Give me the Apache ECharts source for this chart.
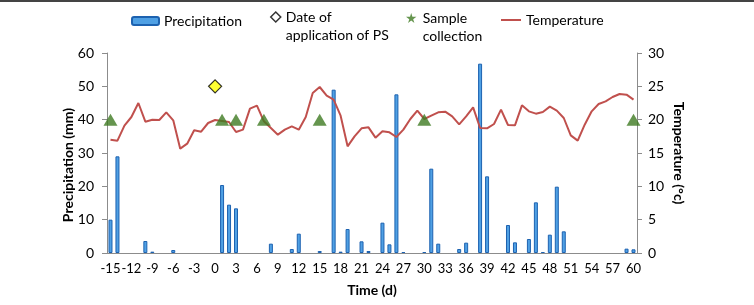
<!DOCTYPE html>
<html>
<head>
<meta charset="utf-8">
<script src="https://cdn.jsdelivr.net/npm/echarts@6/dist/echarts.min.js"></script>
<style>
  html, body { margin: 0; padding: 0; background: #fff; }
  #chart { width: 754px; height: 305px; }
</style>
</head>
<body>
<div id="chart"></div>
<script>
// days (x categories)
var days = ['-15','-14','-13','-12','-11','-10','-9','-8','-7','-6','-5','-4','-3','-2','-1',
  '0','1','2','3','4','5','6','7','8','9','10','11','12','13','14','15','16','17','18','19',
  '20','21','22','23','24','25','26','27','28','29','30','31','32','33','34','35','36','37',
  '38','39','40','41','42','43','44','45','46','47','48','49','50','51','52','53','54','55',
  '56','57','58','59','60'];

// precipitation in mm, one per day (null = no rain)
var precipitation = [10, 29, null, null, null, 3.6, 0.4, null, null, 0.9, null, null, null, null, null,
  null, 20.4, 14.5, 13.4, null, null, null, null, 2.8, null, null, 1.2, 5.8, null, null, 0.6, null, 49, 0.4, 7.2,
  null, 3.5, 0.6, null, 9.1, 2.6, 47.6, 0.3, null, null, 0.3, 25.3, 2.8, null, null, 1.2, 3.1, null,
  56.8, 23, null, null, 8.4, 3.2, null, 4.2, 15.2, 0.3, 5.5, 19.9, 6.5, null, null, null, null, null,
  null, null, null, 1.3, 1.1];

// air temperature in °C, one per day
var temperature = [17.0, 16.85, 19.1, 20.4, 22.5, 19.7, 20, 19.95, 21.1, 19.9, 15.65, 16.4, 18.4, 18.2, 19.5,
  19.95, 19.8, 19.65, 18.15, 18.5, 21.65, 22.1, 19.75, 18.75, 17.75, 18.5, 19, 18.5, 20.4, 24, 24.9, 23.6, 23, 20.6, 16,
  17.5, 18.7, 18.85, 17.3, 18.25, 18.1, 17.4, 18.5, 20.1, 21.35, 20.1, 20.6, 21.1, 21.2, 20.5, 19.3, 20.5, 21.85,
  18.75, 18.7, 19.35, 21.5, 19.2, 19.15, 22.15, 21.25, 20.9, 21.15, 21.95, 21.35, 20.25, 17.65, 16.85, 19.25, 21.25, 22.35,
  22.75, 23.4, 23.85, 23.75, 23];

// markers
var sampleDays = ['-15', '1', '3', '7', '15', '30', '60'];
var sampleLevel = 40;
var psDays = ['0'];
var psLevel = 50;

var font = 'Lato';
var chart = echarts.init(document.getElementById('chart'));

var starPath = 'path://M50,0 L61,35 L98,35 L68,57 L79,92 L50,70 L21,92 L32,57 L2,35 L39,35 Z';
var legendText = { fontFamily: font, fontSize: 14, color: '#000', lineHeight: 18 };
// a blank first line keeps the icon level with the first line of a two-line label
function twoLine(n) { return '\u00a0\n' + n; }

option = {
  backgroundColor: '#fff',
  animation: false,
  textStyle: { fontFamily: font, color: '#000' },
  graphic: [
    { type: 'rect', left: 0, top: 0, shape: { width: 754, height: 2 }, style: { fill: '#444' } }
  ],
  legend: [
    {
      data: [{ name: 'Precipitation' }],
      left: 126, top: 7, itemWidth: 27, itemHeight: 8, itemGap: 12,
      textStyle: legendText
    },
    {
      data: [{ name: 'Date of\napplication of PS', icon: 'diamond', itemStyle: { color: '#fff', borderColor: '#000', borderWidth: 1.5 } }],
      left: 265, top: -15, itemWidth: 10, itemHeight: 10, itemGap: 10,
      formatter: twoLine,
      textStyle: legendText
    },
    {
      data: [{ name: 'Sample\ncollection', icon: starPath, itemStyle: { color: '#3e7a22' } }],
      left: 401, top: -14, itemWidth: 13, itemHeight: 10, itemGap: 10,
      formatter: twoLine,
      textStyle: legendText
    },
    {
      data: [{ name: 'Temperature', icon: 'rect', itemStyle: { color: '#c0504d' } }],
      left: 496, top: 6, itemWidth: 20, itemHeight: 2, itemGap: 12,
      textStyle: legendText
    }
  ],
  grid: { left: 107, right: 117, top: 53, bottom: 52 },
  xAxis: {
    type: 'category',
    data: days,
    name: 'Time (d)',
    nameLocation: 'middle',
    nameGap: 30,
    nameTextStyle: { fontFamily: font, fontSize: 14, fontWeight: 'bold', color: '#000' },
    axisLine: { lineStyle: { color: '#8c8c8c' } },
    axisTick: { interval: 0, length: 5, lineStyle: { color: '#8c8c8c' } },
    axisLabel: {
      interval: 2, showMinLabel: true, showMaxLabel: true, hideOverlap: false,
      fontFamily: font, fontSize: 13, color: '#000', margin: 9
    }
  },
  yAxis: [
    {
      type: 'value',
      min: 0, max: 60, interval: 10,
      name: 'Precipitation (mm)',
      nameLocation: 'middle',
      nameGap: 32,
      nameMoveOverlap: false,
      nameTextStyle: { fontFamily: font, fontSize: 14, fontWeight: 'bold', color: '#000', padding: [0, 24, 0, 0] },
      axisLine: { show: true, lineStyle: { color: '#8c8c8c' } },
      axisTick: { show: true, length: 5, lineStyle: { color: '#8c8c8c' } },
      axisLabel: { fontFamily: font, fontSize: 14, color: '#000', margin: 13 },
      splitLine: { show: false }
    },
    {
      type: 'value',
      min: 0, max: 30, interval: 5,
      name: 'Temperature (°c)',
      nameLocation: 'middle',
      nameRotate: -90,
      nameGap: 35,
      nameMoveOverlap: false,
      nameTextStyle: { fontFamily: font, fontSize: 14, fontWeight: 'bold', color: '#000' },
      axisLine: { show: true, lineStyle: { color: '#8c8c8c' } },
      axisTick: { show: true, length: 5, lineStyle: { color: '#8c8c8c' } },
      axisLabel: { fontFamily: font, fontSize: 14, color: '#000', margin: 11 },
      splitLine: { show: false }
    }
  ],
  series: [
    {
      name: 'Precipitation',
      type: 'bar',
      yAxisIndex: 0,
      data: precipitation,
      barWidth: 4,
      itemStyle: { color: '#4fa0e4', borderColor: '#1d62b0', borderWidth: 1 }
    },
    {
      name: 'Temperature',
      type: 'line',
      yAxisIndex: 1,
      data: temperature,
      symbol: 'none',
      z: 3,
      lineStyle: { color: '#c0504d', width: 2 },
      itemStyle: { color: '#c0504d' }
    },
    {
      name: 'Date of\napplication of PS',
      type: 'scatter',
      yAxisIndex: 0,
      data: psDays.map(function (d) { return [d, psLevel]; }),
      symbol: 'diamond',
      symbolSize: 13,
      z: 4,
      itemStyle: { color: '#ffff00', borderColor: '#000', borderWidth: 1.2 }
    },
    {
      name: 'Sample\ncollection',
      type: 'scatter',
      yAxisIndex: 0,
      data: sampleDays.map(function (d) { return [d, sampleLevel]; }),
      symbol: 'triangle',
      symbolSize: [14, 12],
      z: 4,
      itemStyle: { color: '#3e7a22' }
    }
  ]
};

chart.setOption(option);
</script>
</body>
</html>
